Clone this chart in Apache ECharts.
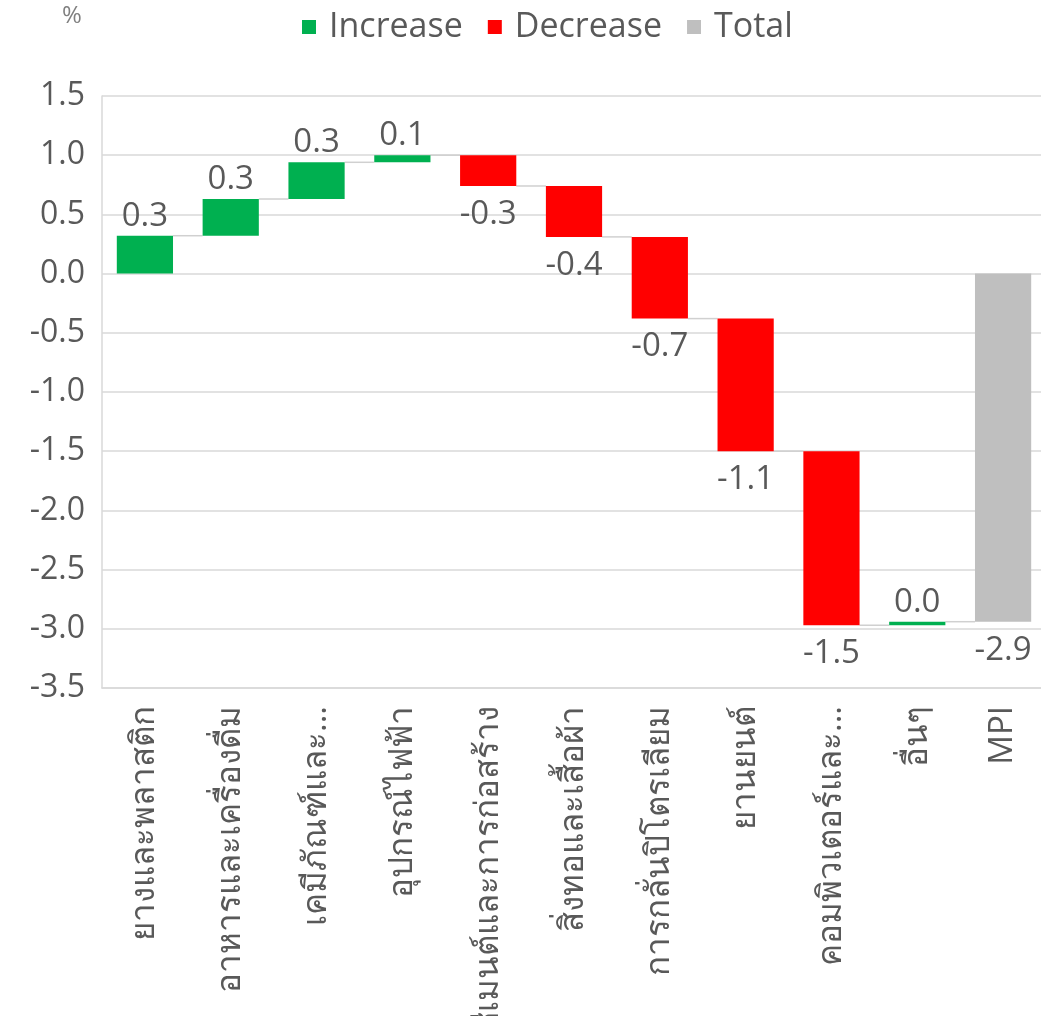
<!DOCTYPE html>
<html>
<head>
<meta charset="utf-8">
<script src="https://cdn.jsdelivr.net/npm/echarts@6/dist/echarts.min.js"></script>
<style>html,body{margin:0;padding:0;background:#fff;}#c{width:1041px;height:1016px;}</style>
</head>
<body>
<div id="c"></div>
<script>
const categories = ['ยางและพลาสติก','อาหารและเครื่องดื่ม','เคมีภัณฑ์และ...','อุปกรณ์ไฟฟ้า','ซีเมนต์และการก่อสร้าง','สิ่งทอและเสื้อผ้า','การกลั่นปิโตรเลียม','ยานยนต์','คอมพิวเตอร์และ...','อื่นๆ','MPI'];
const deltas = [0.32, 0.31, 0.31, 0.06, -0.26, -0.43, -0.69, -1.12, -1.47, 0.03];
const totalValue = -2.94;
const yTicks = {min: -3.5, max: 1.5, interval: 0.5};
const legendNames = ['Increase', 'Decrease', 'Total'];

const FONT = "'Open Sans', 'Noto Sans', sans-serif";
const TXT = '#595959';

// waterfall ranges
const incData = [], decData = [], conData = [];
let run = 0;
deltas.forEach((d, i) => {
  const start = run; const end = run + d;
  (d >= 0 ? incData : decData).push([i, start, end, d]);
  conData.push([i, end]);
  run = end;
});
const totData = [[deltas.length, 0, totalValue, totalValue]];

const BAR_FRAC = 0.655;

function barRender(params, api) {
  const x = api.value(0), s = api.value(1), e = api.value(2), v = api.value(3);
  const p1 = api.coord([x, s]), p2 = api.coord([x, e]);
  const bw = api.size([1, 0])[0] * BAR_FRAC;
  const top = Math.min(p1[1], p2[1]);
  const h = Math.max(Math.abs(p1[1] - p2[1]), 2);
  const up = v >= 0;
  return {
    type: 'group',
    children: [
      {type: 'rect', shape: {x: p1[0] - bw / 2, y: top, width: bw, height: h}, style: api.style()},
      {type: 'text', style: {
        text: v.toFixed(1), x: p1[0], y: up ? top - 3 : top + h + 12,
        align: 'center', verticalAlign: up ? 'bottom' : 'top',
        fill: TXT, font: '33px ' + FONT
      }}
    ]
  };
}

function conRender(params, api) {
  const x = api.value(0), lv = api.value(1);
  const p = api.coord([x, lv]), q = api.coord([x + 1, lv]);
  const bw = api.size([1, 0])[0] * BAR_FRAC;
  return {type: 'line', shape: {x1: p[0] + bw / 2, y1: p[1], x2: q[0] - bw / 2, y2: q[1]},
    style: {stroke: '#d0d0d0', lineWidth: 1.5}};
}

const chart = echarts.init(document.getElementById('c'), null, {renderer: 'canvas'});
chart.setOption({
  animation: false,
  backgroundColor: '#fff',
  graphic: [{type: 'text', left: 62, top: 4, style: {text: '%', fill: '#7f7f7f', font: '24px ' + FONT}}],
  legend: {
    data: legendNames, top: 5, left: 297, icon: 'rect', itemWidth: 14, itemHeight: 14, itemGap: 25,
    textStyle: {color: TXT, fontSize: 34, fontFamily: FONT, padding: [0, 0, 0, 8]}
  },
  grid: {left: 102, top: 96, width: 944, height: 592, containLabel: false, outerBoundsMode: 'none'},
  xAxis: {
    type: 'category', data: categories,
    axisLine: {onZero: false, lineStyle: {color: '#d9d9d9', width: 1.5}},
    axisTick: {show: false},
    axisLabel: {rotate: 90, interval: 0, margin: 18, color: TXT, fontSize: 33, fontFamily: FONT}
  },
  yAxis: {
    type: 'value', min: yTicks.min, max: yTicks.max, interval: yTicks.interval,
    axisLine: {show: true, lineStyle: {color: '#d9d9d9', width: 1.5}},
    axisTick: {show: false},
    splitLine: {lineStyle: {color: '#d9d9d9', width: 1.5}},
    axisLabel: {formatter: v => v.toFixed(1), color: TXT, fontSize: 32, fontFamily: FONT, margin: 17}
  },
  series: [
    {name: 'Connector', type: 'custom', renderItem: conRender, data: conData, silent: true, z: 1},
    {name: 'Increase', type: 'custom', renderItem: barRender, data: incData, itemStyle: {color: '#00b050'}, z: 2},
    {name: 'Decrease', type: 'custom', renderItem: barRender, data: decData, itemStyle: {color: '#ff0000'}, z: 2},
    {name: 'Total', type: 'custom', renderItem: barRender, data: totData, itemStyle: {color: '#bfbfbf'}, z: 2}
  ]
});
</script>
</body>
</html>
